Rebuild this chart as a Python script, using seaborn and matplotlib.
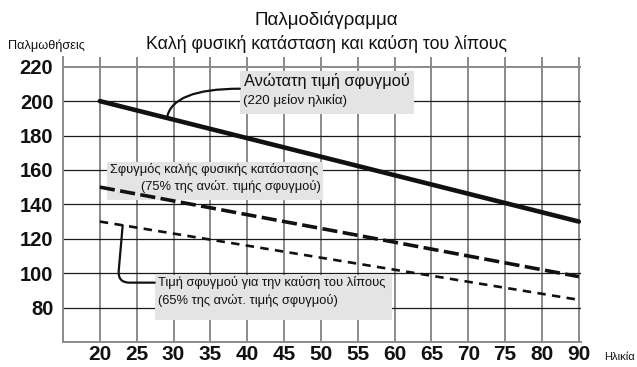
import numpy as np
import pandas as pd
import matplotlib
matplotlib.use("Agg")
import matplotlib.pyplot as plt
import seaborn as sns
from matplotlib.patches import Rectangle

# Age categories along the bottom and heart-rate ticks on the left
age_labels = ["20", "25", "30", "35", "40", "45", "50", "55", "60", "65", "70", "75", "80", "90"]
hr_ticks = [80, 100, 120, 140, 160, 180, 200, 220]

# Each zone is a straight line between the youngest and oldest age
line_ages = ["20", "90"]
max_hr = [200, 130]          # 220 minus age
fitness_hr = [150, 98]       # 75% of maximum
fatburn_hr = [130, 84.5]     # 65% of maximum

sns.set_style("white")
plt.rcParams["font.family"] = ["Liberation Sans", "DejaVu Sans"]

df = pd.DataFrame({
    "pos": [age_labels.index(a) for a in line_ages],
    "max": max_hr,
    "fitness": fitness_hr,
    "fatburn": fatburn_hr,
})

fig = plt.figure(figsize=(6.37, 3.67), dpi=100)
ax = fig.add_axes([0.0989, 0.0681, 0.8127, 0.776])

sns.lineplot(data=df, x="pos", y="max", color="#111111", lw=3.3, ax=ax, zorder=2)
sns.lineplot(data=df, x="pos", y="fitness", color="#111111", lw=2.6, ax=ax, zorder=2)
ax.lines[-1].set_dashes((4.2, 1.5))
sns.lineplot(data=df, x="pos", y="fatburn", color="#111111", lw=1.9, ax=ax, zorder=2)
ax.lines[-1].set_dashes((3.2, 2.4))

ax.set_xlim(-1, 13.05)
ax.set_ylim(60, 225.5)
ax.set_xticks(range(len(age_labels)))
ax.set_xticklabels(age_labels)
ax.set_yticks(hr_ticks)
ax.set_xlabel("")
ax.set_ylabel("")

ax.set_axisbelow(True)
ax.grid(axis="x", color="#8a8a8a", lw=1.4)
ax.grid(axis="y", color="#1a1a1a", lw=0.9)
ax.yaxis.get_gridlines()[-1].set_color("#8a8a8a")
ax.yaxis.get_gridlines()[-1].set_linewidth(1.4)

for side in ("top", "right"):
    ax.spines[side].set_visible(False)
for side in ("left", "bottom"):
    ax.spines[side].set_color("#8a8a8a")
    ax.spines[side].set_linewidth(1.4)

ax.tick_params(axis="y", length=5.5, width=0.9, color="#1a1a1a", pad=1.5, labelsize=14.5)
ax.tick_params(axis="x", length=0, pad=2.5, labelsize=15)
for lbl in ax.get_xticklabels() + ax.get_yticklabels():
    lbl.set_fontweight("bold")
    lbl.set_color("#111111")

box_color = "#e4e4e4"

# Maximum heart rate label
ax.add_patch(Rectangle((3.80, 192.7), 4.72, 25.0, color=box_color, zorder=1, lw=0))
ax.text(3.91, 211.9, "Ανώτατη τιμή σφυγμού", fontsize=11.8, va="center", ha="left", color="#111111", zorder=3)
ax.text(3.88, 200.2, "(220 μείον ηλικία)", fontsize=9.6, va="center", ha="left", color="#111111", zorder=3)
start_x = 1.82
start_y = float(np.interp(start_x, df["pos"], df["max"]))
ax.annotate("", xy=(3.80, 207.2), xytext=(start_x, start_y),
            arrowprops=dict(arrowstyle="-", connectionstyle="angle3,angleA=80,angleB=0",
                            lw=1.6, color="#111111", shrinkA=0, shrinkB=0), zorder=3)

# Fitness zone label
ax.add_patch(Rectangle((0.19, 142.7), 5.86, 22.1, color=box_color, zorder=1, lw=0))
ax.text(0.27, 160.2, "Σφυγμός καλής φυσικής κατάστασης", fontsize=9.3, va="center", ha="left", color="#111111", zorder=3)
ax.text(6.0, 150.3, "(75% της ανώτ. τιμής σφυγμού)", fontsize=9.3, va="center", ha="right", color="#111111", zorder=3)

# Fat-burning zone label
ax.add_patch(Rectangle((1.49, 73.0), 6.43, 26.1, color=box_color, zorder=1, lw=0))
ax.text(1.57, 94.5, "Τιμή σφυγμού για την καύση του λίπους", fontsize=9.3, va="center", ha="left", color="#111111", zorder=3)
ax.text(1.57, 84.0, "(65% της ανώτ. τιμής σφυγμού)", fontsize=9.3, va="center", ha="left", color="#111111", zorder=3)
start_x = 0.62
start_y = float(np.interp(start_x, df["pos"], df["fatburn"]))
ax.annotate("", xy=(1.49, 94.5), xytext=(start_x, start_y),
            arrowprops=dict(arrowstyle="-", connectionstyle="angle,angleA=85,angleB=0,rad=12",
                            lw=1.6, color="#111111", shrinkA=0, shrinkB=0), zorder=3)

fig.text(0.512, 0.9455, "Παλμοδιάγραμμα", fontsize=13.5, ha="center", va="center", color="#111111")
fig.text(0.513, 0.880, "Καλή φυσική κατάσταση και καύση του λίπους", fontsize=12.8, ha="center", va="center", color="#111111")
fig.text(0.0126, 0.8747, "Παλμωθήσεις", fontsize=9.2, ha="left", va="center", color="#111111")
fig.text(0.949, 0.0272, "Ηλικία", fontsize=8, ha="left", va="center", color="#111111")

fig.savefig("out.png", dpi=100)
